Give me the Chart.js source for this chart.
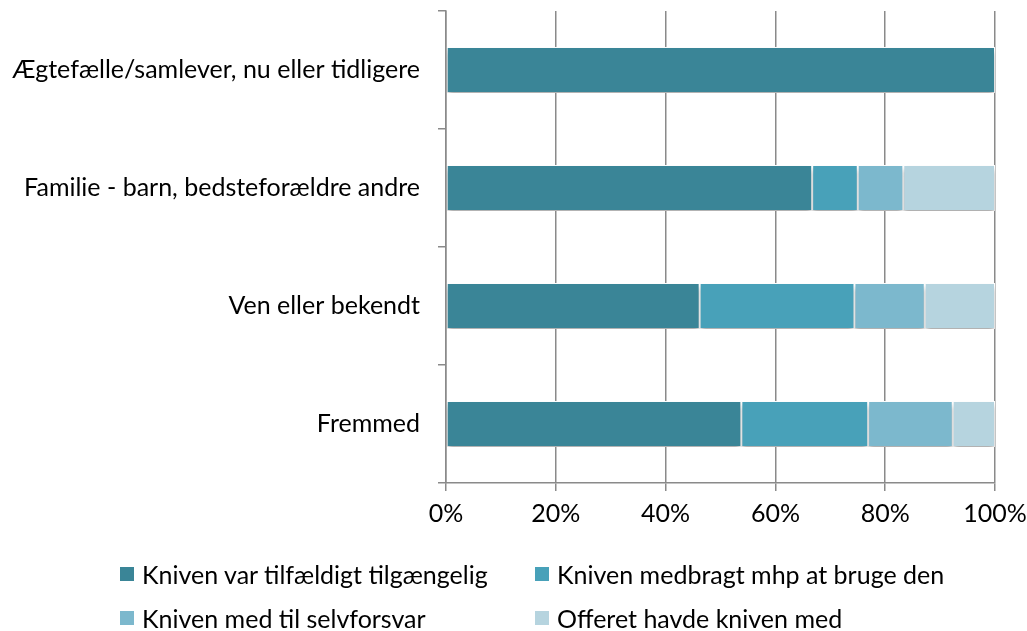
<!DOCTYPE html>
<html>
<head>
<meta charset="utf-8">
<script src="https://cdn.jsdelivr.net/npm/chart.js@4"></script>
<style>
  html, body { margin: 0; padding: 0; background: #fff; }
  #wrap { position: relative; width: 1027px; height: 631px; overflow: hidden; }
  #legend { position: absolute; left: 0; top: 0; width: 1027px; height: 631px; pointer-events: none;
            font-family: Lato, "Open Sans", sans-serif; font-size: 25px; color: #000; }
  .item { position: absolute; display: flex; align-items: center; white-space: nowrap; }
  .box { width: 14px; height: 14px; margin-right: 8px; }
</style>
</head>
<body>
<div id="wrap">
  <canvas id="chart" width="1027" height="631"></canvas>
  <div id="legend"></div>
</div>
<script>
document.addEventListener('DOMContentLoaded', function() {
    // Categories (top to bottom)
    const categories = [
        'Ægtefælle/samlever, nu eller tidligere',
        'Familie - barn, bedsteforældre andre',
        'Ven eller bekendt',
        'Fremmed'
    ];
    // Series, share in percent
    const seriesNames = [
        'Kniven var tilfældigt tilgængelig',
        'Kniven medbragt mhp at bruge den',
        'Kniven med til selvforsvar',
        'Offeret havde kniven med'
    ];
    const tilfaeldig = [100, 66.7, 46.2, 53.8];
    const medbragt = [0, 8.3, 28.2, 23.1];
    const selvforsvar = [0, 8.3, 12.8, 15.4];
    const offeret = [0, 16.7, 12.8, 7.7];
    const xTicks = [0, 20, 40, 60, 80, 100];

    const colors = ['#3a8597', '#48a1b9', '#7cb8cd', '#b6d4df'];
    const values = [tilfaeldig, medbragt, selvforsvar, offeret];
    const font = 'Lato, "Open Sans", sans-serif';
    const gridColor = '#8a8a8a';

    const barShadow = {
        id: 'barShadow',
        beforeDatasetsDraw(chart) {
            const ctx = chart.ctx;
            ctx.save();
            ctx.shadowColor = 'rgba(0,0,0,0.35)';
            ctx.shadowBlur = 5;
            ctx.shadowOffsetY = 4;
        },
        afterDatasetsDraw(chart) {
            chart.ctx.restore();
        }
    };

    // keep the plot area where the reference has it
    function noPadding(scale) {
        scale.paddingTop = 0;
        scale.paddingBottom = 0;
        scale.paddingLeft = 0;
        scale.paddingRight = 0;
    }

    new Chart(document.getElementById('chart'), {
        type: 'bar',
        data: {
            labels: categories,
            datasets: seriesNames.map(function(name, i) {
                return {
                    label: name,
                    data: values[i],
                    backgroundColor: colors[i],
                    borderColor: '#ffffff',
                    borderWidth: 1,
                    borderSkipped: false,
                    barPercentage: 0.39,
                    categoryPercentage: 1
                };
            })
        },
        options: {
            indexAxis: 'y',
            responsive: false,
            animation: false,
            layout: { padding: { left: 0, right: 32, top: 11, bottom: 88 } },
            plugins: {
                legend: { display: false },
                tooltip: { enabled: false }
            },
            scales: {
                x: {
                    stacked: true,
                    min: 0,
                    max: 100,
                    afterBuildTicks: function(scale) {
                        scale.ticks = xTicks.map(function(v) { return { value: v }; });
                    },
                    afterFit: function(scale) { scale.height = 60; noPadding(scale); },
                    ticks: {
                        color: '#000',
                        font: { family: font, size: 25 },
                        padding: 8,
                        callback: function(value) { return value + '%'; }
                    },
                    grid: { color: gridColor, lineWidth: 1.5, tickLength: 8 },
                    border: { display: true, color: gridColor, width: 1.5 }
                },
                y: {
                    stacked: true,
                    afterFit: function(scale) { scale.width = 446; noPadding(scale); },
                    ticks: {
                        color: '#000',
                        font: { family: font, size: 25 },
                        padding: 18
                    },
                    grid: { offset: true, drawOnChartArea: false, color: gridColor, lineWidth: 1.5, tickLength: 8 },
                    border: { display: true, color: gridColor, width: 1.5 }
                }
            }
        },
        plugins: [barShadow]
    });

    // Legend laid out in two columns, two rows
    const legend = document.getElementById('legend');
    const spots = [[120, 574], [535, 574], [120, 618], [535, 618]];
    seriesNames.forEach(function(name, i) {
        const item = document.createElement('div');
        item.className = 'item';
        item.style.left = spots[i][0] + 'px';
        item.style.top = (spots[i][1] - 15) + 'px';
        item.style.height = '30px';
        const box = document.createElement('span');
        box.className = 'box';
        box.style.background = colors[i];
        const txt = document.createElement('span');
        txt.textContent = name;
        item.appendChild(box);
        item.appendChild(txt);
        legend.appendChild(item);
    });
});
</script>
</body>
</html>
